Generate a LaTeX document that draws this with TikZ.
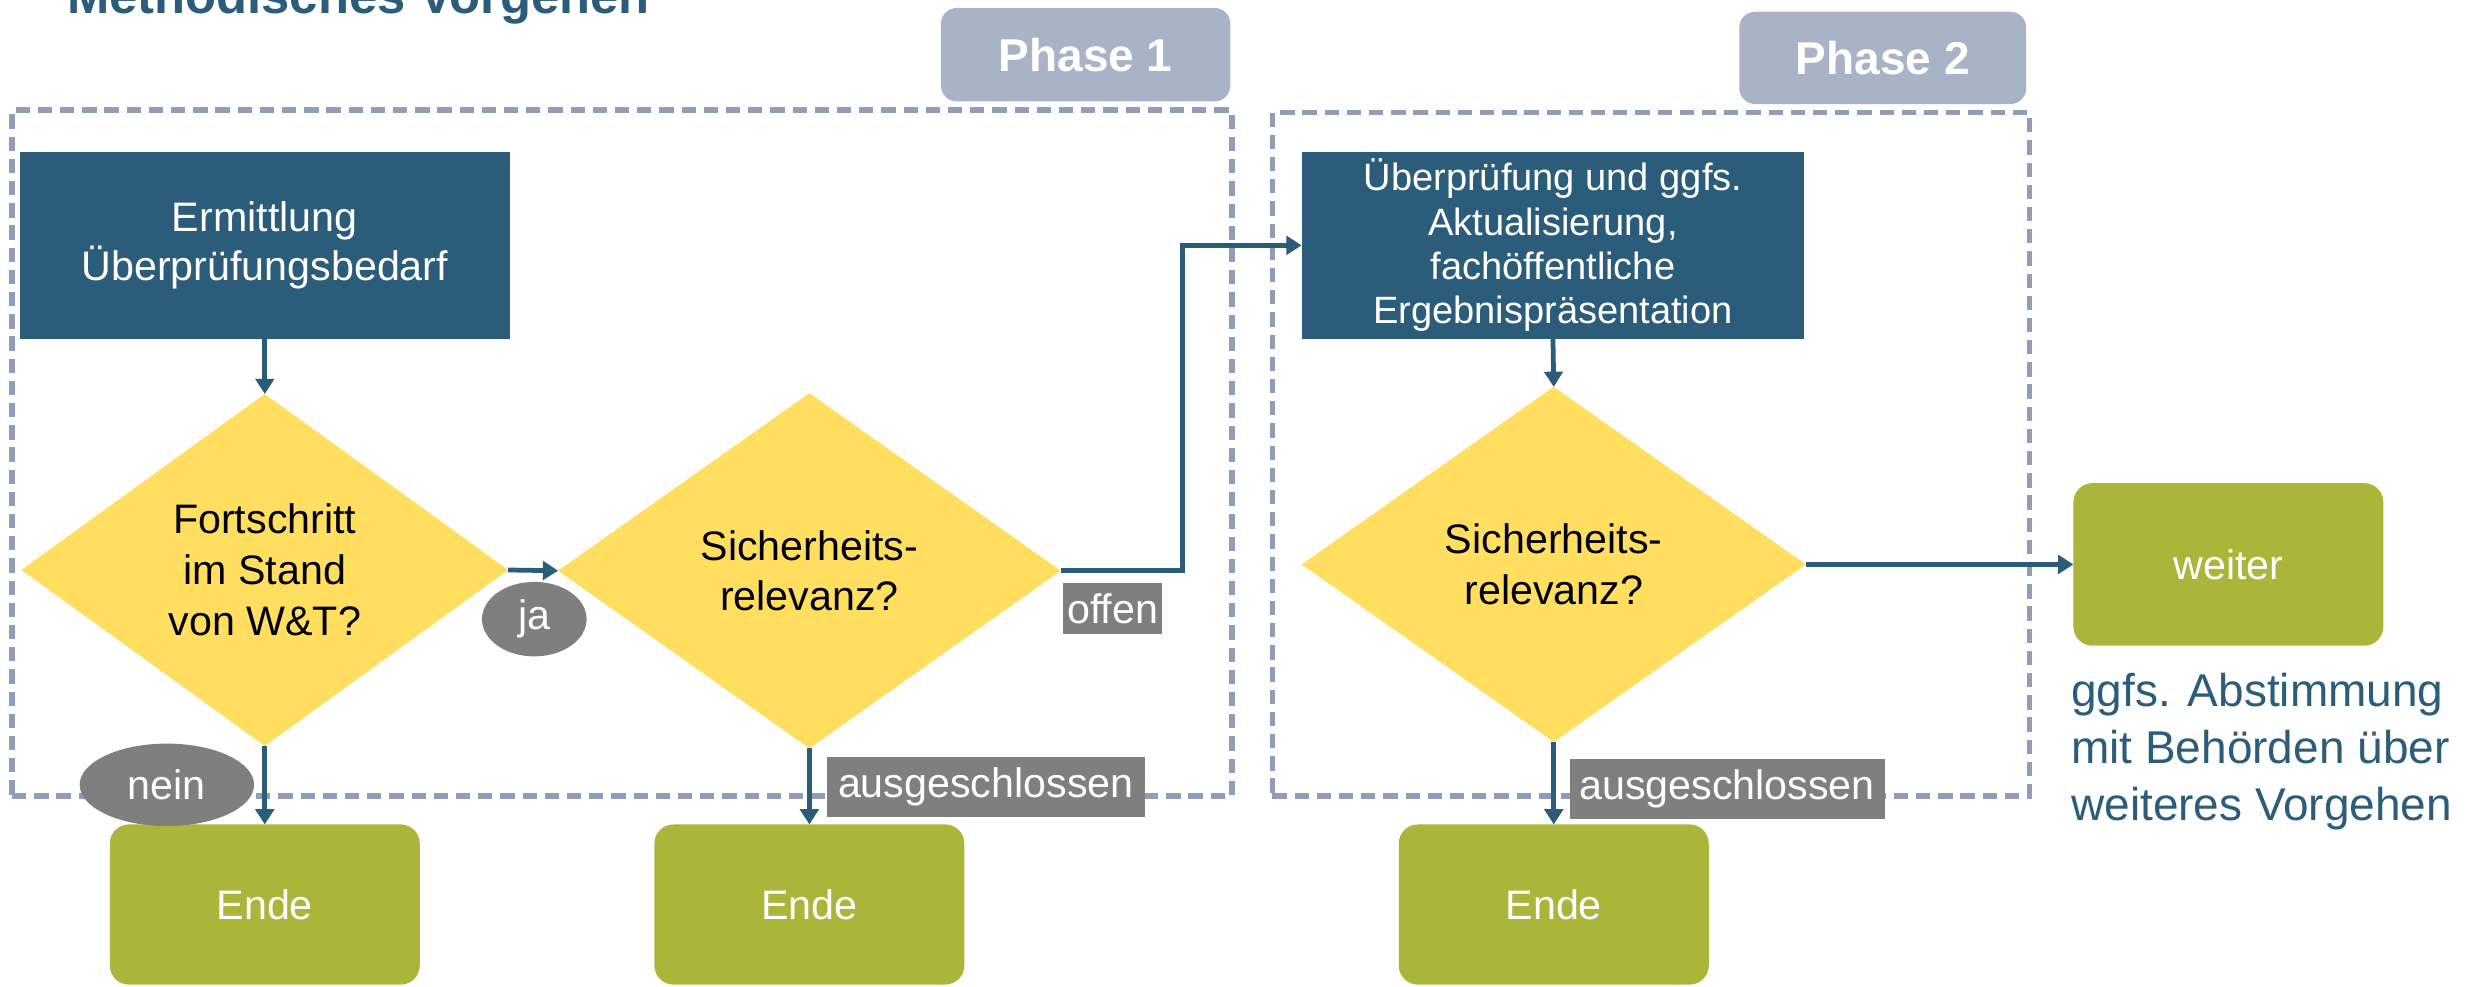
\documentclass[tikz,border=0pt]{standalone}
\usepackage{fontspec}
\setmainfont{Liberation Sans}
\usetikzlibrary{shapes.geometric,arrows.meta}
\definecolor{dblue}{RGB}{43,92,122}
\definecolor{dyellow}{RGB}{255,222,96}
\definecolor{olivegreen}{RGB}{171,181,58}
\definecolor{labgray}{RGB}{127,127,127}
\definecolor{phasefill}{RGB}{168,180,198}
\definecolor{dashcol}{RGB}{143,158,182}
\begin{document}
\begin{tikzpicture}[x=0.5pt,y=-0.5pt,
  procbox/.style={rectangle, fill=dblue, text=white, align=center, inner sep=0pt, outer sep=0pt, minimum height=58.75pt},
  decision/.style={diamond, fill=dyellow, text=black, align=center, inner sep=0pt, outer sep=0pt, aspect=1.4, font=\fontsize{13}{16}\selectfont},
  endbox/.style={rectangle, rounded corners=6pt, fill=olivegreen, text=white, inner sep=0pt, outer sep=0pt, minimum width=97.75pt, minimum height=50.5pt, font=\fontsize{13}{15}\selectfont},
  phasebox/.style={rectangle, rounded corners=5pt, fill=phasefill, text=white, inner sep=0pt, outer sep=0pt, font=\bfseries\fontsize{14.5}{17}\selectfont},
  phaseframe/.style={rectangle, draw=dashcol, line width=1.75pt, dash pattern=on 4.5pt off 2.5pt, inner sep=0pt, outer sep=0pt},
  branchoval/.style={ellipse, fill=labgray, text=white, inner sep=0pt, outer sep=0pt, font=\fontsize{13}{15}\selectfont},
  branchtag/.style={rectangle, fill=labgray, text=white, inner sep=0pt, outer sep=0pt, font=\fontsize{13}{15}\selectfont},
  arr/.style={draw=dblue, line width=1.5pt, -{Triangle[width=5.8pt,length=4.8pt]}}
]
\useasboundingbox (0,0) rectangle (1568,622);

% title
\node[anchor=base west, inner sep=0pt, text=dblue, font=\bfseries\fontsize{16}{19}\selectfont] (title) at (42,8.8) {Methodisches Vorgehen};

% phase frames and headers
\node[phaseframe, minimum width=384.7pt, minimum height=216.25pt] (frame1) at (392.3,285.75) {};
\node[phaseframe, minimum width=238.75pt, minimum height=215.5pt] (frame2) at (1041.25,286.5) {};
\node[phasebox, minimum width=91.25pt, minimum height=29.5pt] (ph1) at (684.75,34.5) {Phase 1};
\node[phasebox, minimum width=90.5pt, minimum height=29.1pt] (ph2) at (1187.5,36.5) {Phase 2};

% process boxes
\node[procbox, minimum width=154.7pt, font=\fontsize{13}{15.25}\selectfont] (erm) at (167,154.75) {Ermittlung\\Überprüfungsbedarf};
\node[procbox, minimum width=158.5pt, font=\fontsize{12}{14}\selectfont] (ueb) at (979.5,154.75) {Überprüfung und ggfs.\\Aktualisierung,\\fachöffentliche\\Ergebnispräsentation};

% decisions
\node[decision, minimum width=153.5pt, minimum height=111pt] (d1) at (167,359.5) {Fortschritt\\im Stand\\von W\&T?};
\node[decision, minimum width=158.5pt, minimum height=112pt] (d2) at (510.5,360) {Sicherheits-\\relevanz?};
\node[decision, minimum width=159pt, minimum height=112pt] (d3) at (980,356) {Sicherheits-\\relevanz?};

% end boxes
\node[endbox] (e1) at (167,570.5) {Ende};
\node[endbox] (e2) at (510.5,570.5) {Ende};
\node[endbox] (e3) at (980,570.5) {Ende};
\node[endbox, minimum height=51.25pt] (weiter) at (1405.5,356) {weiter};

% connectors
\coordinate (bend) at (746,360);
\draw[arr] (erm.south) -- (d1.north);
\draw[arr] (d1.east) -- (d2.west);
\draw[arr] (d1.south) -- (e1.north);
\draw[arr] (d2.south) -- (e2.north);
\draw[arr] (d2.east) -- (bend) |- (ueb.west);
\draw[arr] (ueb.south) -- (d3.north);
\draw[arr] (d3.south) -- (e3.north);
\draw[arr] (d3.east) -- (weiter.west);

% branch labels
\node[branchoval, minimum width=33pt, minimum height=23.5pt] (ja) at (337,390.5) {ja};
\node[branchoval, minimum width=55pt, minimum height=26pt] (nein) at (105.25,495) {nein};
\node[branchtag, minimum width=31.25pt, minimum height=16pt] (offen) at (701.75,384) {offen};
\node[branchtag, minimum width=100.2pt, minimum height=19pt] (aus1) at (621.8,496.5) {ausgeschlossen};
\node[branchtag, minimum width=99.3pt, minimum height=18.9pt] (aus2) at (1089.3,497.5) {ausgeschlossen};

% note
\node[anchor=west, inner sep=0pt, align=left, text=dblue, font=\fontsize{14.5}{18}\selectfont] (note) at (1306,474) {ggfs. Abstimmung\\mit Behörden über\\weiteres Vorgehen};
\end{tikzpicture}
\end{document}
